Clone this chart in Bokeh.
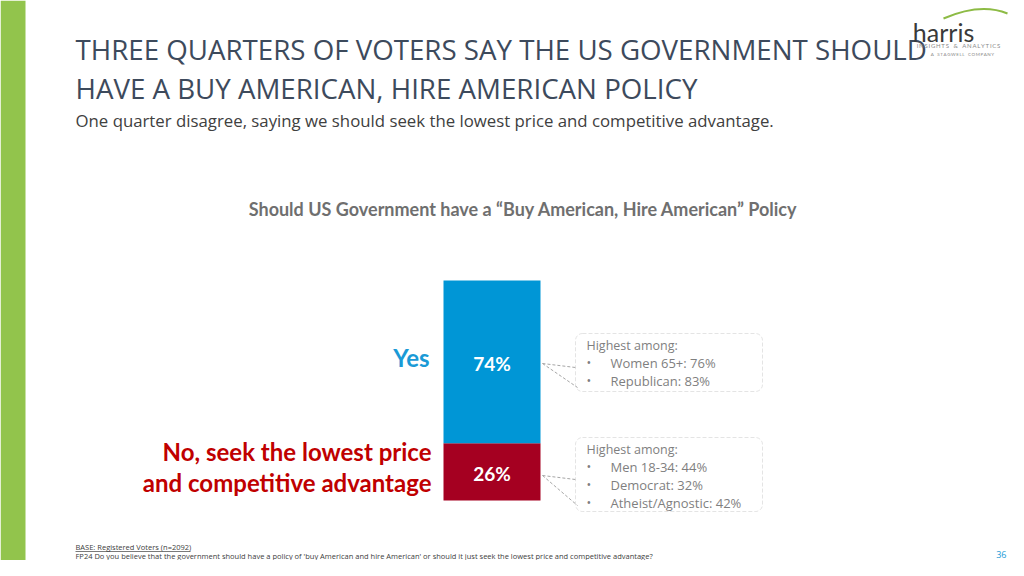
from bokeh.plotting import figure
from bokeh.models import Range1d, Label, BoxAnnotation
from bokeh.embed import file_html
from bokeh.resources import INLINE

# ---------------- data ----------------
categories = ["No, seek the lowest price and competitive advantage", "Yes"]
values = [26, 74]
bar_colors = ["#a50021", "#0096d6"]
value_labels = ["26%", "74%"]

callout_yes = ["Women 65+: 76%", "Republican: 83%"]
callout_no = ["Men 18-34: 44%", "Democrat: 32%", "Atheist/Agnostic: 42%"]

title_lines = ["THREE QUARTERS OF VOTERS SAY THE US GOVERNMENT SHOULD",
               "HAVE A BUY AMERICAN, HIRE AMERICAN POLICY"]
subtitle = "One quarter disagree, saying we should seek the lowest price and competitive advantage."
chart_title = "Should US Government have a \u201cBuy American, Hire American\u201d Policy"
base_note = "BASE: Registered Voters (n=2092)"
question = ("FP24 Do you believe that the government should have a policy of 'buy American and hire American' "
            "or should it just seek the lowest price and competitive advantage?")
page_no = "36"
logo_name = "harris"
logo_line1 = "INSIGHTS & ANALYTICS"
logo_line2 = "A STAGWELL COMPANY"

# ---------------- layout ----------------
W, H = 1008, 560
BAR_BOTTOM_PX = H - 500   # bar base, measured from canvas bottom
BAR_SPAN_PX = 220         # pixels for 100%
ppu = BAR_SPAN_PX / 100.0
y0 = -BAR_BOTTOM_PX / ppu
y1 = (H - BAR_BOTTOM_PX) / ppu


def X(xr):
    return xr


def Y(yr):
    ys = H - yr
    return (ys - BAR_BOTTOM_PX) / ppu


def spaced(s):
    out = []
    for ch in s:
        out.append("\u00a0\u00a0" if ch == " " else ch)
    return "\u2009".join(out)


p = figure(width=W, height=H, output_backend="svg", toolbar_location=None,
           x_range=Range1d(0, W), y_range=Range1d(y0, y1),
           min_border=0, border_fill_color="white", background_fill_color="white",
           outline_line_color=None)
p.axis.visible = False
p.grid.visible = False

# left green band
p.add_layout(BoxAnnotation(left=0, right=X(25), bottom=y0, top=y1,
                           fill_color="#92c44c", fill_alpha=1, line_color=None))

# ---------------- stacked bar ----------------
bottoms = []
acc = 0
for v in values:
    bottoms.append(acc)
    acc += v
tops = [b + v for b, v in zip(bottoms, values)]
BAR_X = X(491.5)
p.vbar(x=[BAR_X] * len(values), width=97, bottom=bottoms, top=tops,
       fill_color=bar_colors, line_color=None)

for b, t, lab in zip(bottoms, tops, value_labels):
    p.add_layout(Label(x=BAR_X, y=(b + t) / 2 - 0.6, text=lab, text_align="center",
                       text_baseline="middle", text_color="white", text_font="Lato",
                       text_font_style="bold", text_font_size="19px"))

# category labels
p.add_layout(Label(x=X(429), y=Y(357), text=categories[1], text_align="right",
                   text_baseline="middle", text_color="#1a9ad6", text_font="Lato",
                   text_font_style="bold", text_font_size="24px"))
no_lines = ["No, seek the lowest price", "and competitive advantage"]
for yy, line in zip([451, 482], no_lines):
    p.add_layout(Label(x=X(431), y=Y(yy), text=line, text_align="right",
                       text_baseline="middle", text_color="#c00000", text_font="Lato",
                       text_font_style="bold", text_font_size="24px"))

# ---------------- callouts ----------------
box_color = "#a6a6a6"


def callout(top, bottom, apex_y, att1, att2, items):
    p.add_layout(BoxAnnotation(left=X(575), right=X(762), top=Y(top), bottom=Y(bottom),
                               fill_alpha=0, line_color=box_color, line_width=1,
                               line_dash="4 2", border_radius=7))
    # erase box edge where the pointer joins
    p.line([X(575), X(575)], [Y(att1 + 1), Y(att2 - 1)], line_color="white", line_width=4)
    p.multi_line([[X(542), X(575)], [X(542), X(577)]],
                 [[Y(apex_y), Y(att1)], [Y(apex_y), Y(att2)]],
                 line_color=box_color, line_width=1, line_dash="3 2")
    p.add_layout(Label(x=X(586), y=Y(top + 12), text="Highest among:", text_align="left",
                       text_baseline="middle", text_color="#7f7f7f", text_font="Open Sans",
                       text_font_size="12.5px"))
    for i, it in enumerate(items):
        yy = top + 29 + i * 18
        p.add_layout(Label(x=X(586), y=Y(yy), text="\u2022", text_align="left",
                           text_baseline="middle", text_color="#7f7f7f", text_font="Open Sans",
                           text_font_size="12.5px"))
        p.add_layout(Label(x=X(610), y=Y(yy), text=it, text_align="left",
                           text_baseline="middle", text_color="#7f7f7f", text_font="Open Sans",
                           text_font_size="13px"))


callout(333, 391, 363, 367, 387, callout_yes)
callout(437, 511, 475, 479, 505, callout_no)

# ---------------- titles ----------------
for yy, line in zip([48, 87], title_lines):
    p.add_layout(Label(x=X(75), y=Y(yy), text=line, text_align="left", text_baseline="middle",
                       text_color="#3d4a5c", text_font="Open Sans", text_font_size="27.7px"))
p.add_layout(Label(x=X(75), y=Y(120), text=subtitle, text_align="left", text_baseline="middle",
                   text_color="#404040", text_font="Open Sans", text_font_size="16.8px"))
p.add_layout(Label(x=X(523), y=Y(208), text=chart_title, text_align="center",
                   text_baseline="middle", text_color="#6f6f6f", text_font="Lato",
                   text_font_style="bold", text_font_size="18px"))

# ---------------- footer ----------------
p.add_layout(Label(x=X(75), y=Y(546), text=base_note, text_align="left", text_baseline="middle",
                   text_color="#404040", text_font="Open Sans", text_font_size="7.5px"))
p.line([X(75), X(190)], [Y(551), Y(551)], line_color="#404040", line_width=0.7)
p.add_layout(Label(x=X(75), y=Y(555), text=question, text_align="left", text_baseline="middle",
                   text_color="#404040", text_font="Open Sans", text_font_size="7.5px"))
p.add_layout(Label(x=X(1006), y=Y(554), text=page_no, text_align="right", text_baseline="middle",
                   text_color="#1a9ad6", text_font="Open Sans", text_font_size="9px"))

# ---------------- logo ----------------
p.quadratic(x0=[X(943)], y0=[Y(18)], x1=[X(1007)], y1=[Y(13)], cx=[X(980)], cy=[Y(2)],
            line_color="#8dbb45", line_width=2)
p.add_layout(Label(x=X(943), y=Y(31), text=logo_name, text_align="center", text_baseline="middle",
                   text_color="#3a3a3a", text_font="Lato", text_font_size="25px"))
p.add_layout(Label(x=X(958), y=Y(45), text=spaced(logo_line1),
                   text_align="center", text_baseline="middle", text_color="#8a8a8a",
                   text_font="Lato", text_font_size="6px"))
p.add_layout(Label(x=X(962), y=Y(54), text=spaced(logo_line2),
                   text_align="center", text_baseline="middle", text_color="#8a8a8a",
                   text_font="Lato", text_font_size="4.5px"))

open("out.html", "w").write(file_html(p, INLINE))
